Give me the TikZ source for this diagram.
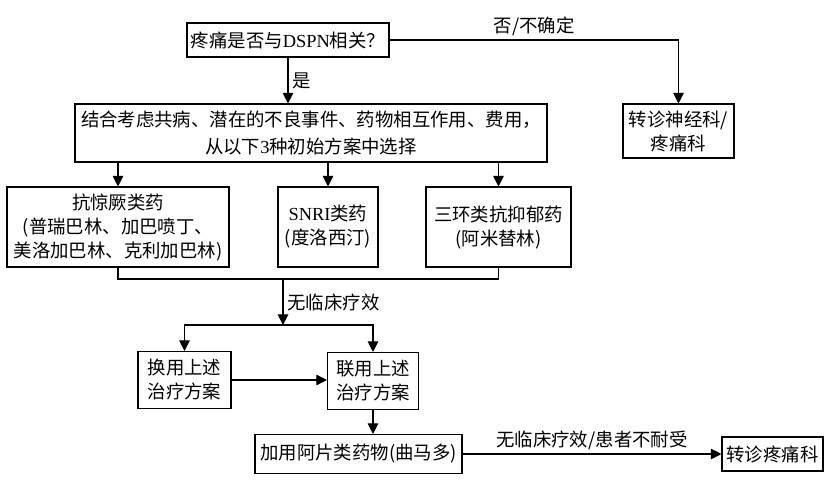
\documentclass[tikz,border=0pt]{standalone}
\usepackage{fontspec}
\setmainfont{Liberation Serif}
\newfontfamily\cjk{Noto Sans CJK SC}
\usetikzlibrary{arrows.meta}

\begin{document}
\begin{tikzpicture}[x=.75pt,y=-.75pt,line width=.8pt,
  box/.style={draw,align=center,inner sep=0pt,font=\cjk\fontsize{13.8}{18}\selectfont},
  wh/.style 2 args={minimum width=#1*0.75pt,minimum height=#2*0.75pt},
  lbl/.style={font=\cjk\fontsize{13.8}{18}\selectfont,inner sep=3pt},
  arr/.style={-{Triangle[length=8pt,width=8pt]}}]
\useasboundingbox (0,0) rectangle (833,486);
\node[box,wh={202}{34}] (q) at (288,40) {疼痛是否与{\rmfamily DSPN}相关？};
\node[box,wh={111}{54}] (refer1) at (678.5,131) {转诊神经科/\\疼痛科};
\node[box,wh={472}{58},font=\cjk\fontsize{13.8}{20}\selectfont] (choose) at (311,133) {结合考虑共病、潜在的不良事件、药物相互作用、费用，\\从以下{\rmfamily 3}种初始方案中选择};
\node[box,wh={222}{80}] (anticonv) at (118,227) {抗惊厥类药\\(普瑞巴林、加巴喷丁、\\美洛加巴林、克利加巴林)};
\node[box,wh={100}{80}] (snri) at (328,227) {{\rmfamily SNRI}类药\\(度洛西汀)};
\node[box,wh={145}{80}] (tca) at (498.5,227) {三环类抗抑郁药\\(阿米替林)};
\node[box,wh={93}{57}] (switch) at (184.5,380) {换用上述\\治疗方案};
\node[box,wh={91}{57}] (combine) at (373,381) {联用上述\\治疗方案};
\node[box,wh={207}{39}] (opioid) at (358.5,454) {加用阿片类药物(曲马多)};
\node[box,wh={101}{34}] (refer2) at (772.5,454) {转诊疼痛科};
\coordinate (join) at (283,279);
\coordinate (fork) at (283,325);
\draw[arr] (q.east) -| node[lbl,pos=.25,above] {否/不确定} (refer1.north);
\draw[arr] (q.south) -- node[lbl,right] {是} (q.south |- choose.north);
\foreach \n in {anticonv,snri,tca}{\draw[arr] (\n.north |- choose.south) -- (\n.north);}
\draw (anticonv.south) |- (join) -| (tca.south);
\draw[arr] (join) -- node[lbl,right] {无临床疗效} (fork);
\draw[arr] (fork) -| (switch.north);
\draw[arr] (fork) -| (combine.north);
\draw[arr] (switch.east) -- (switch.east -| combine.west);
\draw[arr] (combine.south) -- (combine.south |- opioid.north);
\draw[arr] (opioid.east) -- node[lbl,above] {无临床疗效/患者不耐受} (refer2.west);
\end{tikzpicture}
\end{document}
